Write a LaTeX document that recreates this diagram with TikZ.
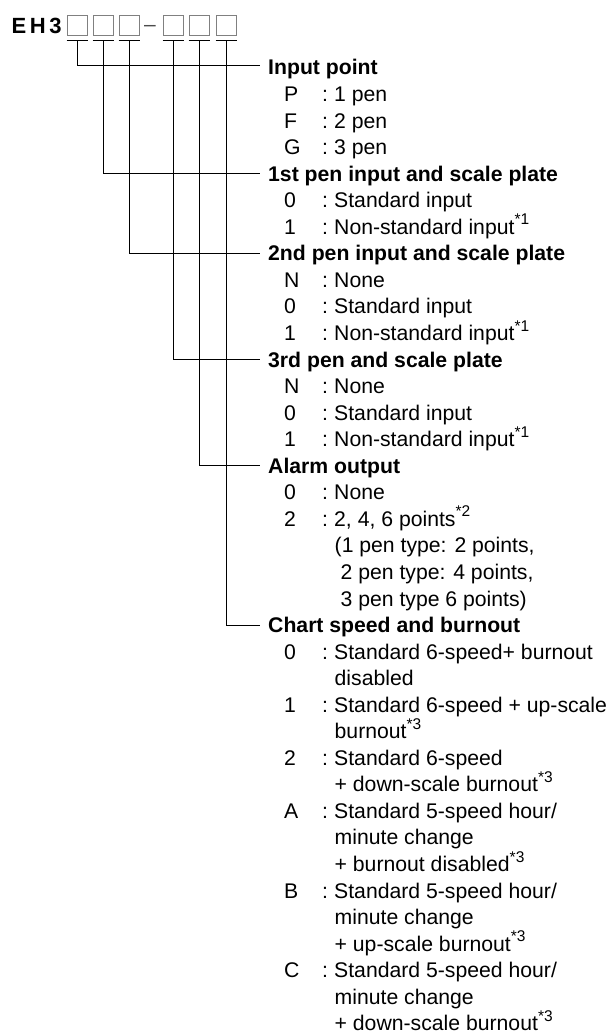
\documentclass[tikz,border=0pt]{standalone}
\usepackage{fontspec}
\setmainfont{Liberation Sans}
\newcommand{\supmark}[1]{\raisebox{9.5pt}{\fontsize{15.5}{15.5}\selectfont *#1}}
\tikzset{
  conn/.style={draw=black, line width=0.9pt},
  codebox/.style={draw=black!50, line width=0.9pt, minimum width=20pt, minimum height=20pt, inner sep=0pt},
  txt/.style={anchor=west, inner sep=0pt, text height=15pt, text depth=0pt, font=\fontsize{21.2}{21.2}\selectfont},
  head/.style={txt, font=\bfseries\fontsize{21.2}{21.2}\selectfont},
}
\begin{document}
\begin{tikzpicture}[x=1pt,y=-1pt]
\useasboundingbox (0,0) rectangle (611,1035);
% model code
\node[anchor=base west, inner sep=0pt, font=\bfseries\fontsize{22}{22}\selectfont] (eh) at (11.5,33.5) {E\kern3.5pt H\kern3.5pt 3};
\node[codebox] (b1) at (77,25) {};
\node[codebox] (b2) at (103,25) {};
\node[codebox] (b3) at (129,25) {};
\node[anchor=base west, inner sep=0pt, text=black!70, font=\fontsize{21}{21}\selectfont] (dash) at (144,31.5) {–};
\node[codebox] (b4) at (173,25) {};
\node[codebox] (b5) at (199,25) {};
\node[codebox] (b6) at (226,25) {};
\foreach \k in {1,...,6}{
  \coordinate (u\k) at ([yshift=-5pt]b\k.south);
  \draw[conn] ([xshift=-10.5pt]u\k) -- ([xshift=10.5pt]u\k);
}
% headers
\node[head] (h0) at (268,{67.5+26.55*0}) {Input point};
\node[head] (h1) at (268,{67.5+26.55*4}) {1st pen input and scale plate};
\node[head] (h2) at (268,{67.5+26.55*7}) {2nd pen input and scale plate};
\node[head] (h3) at (268,{67.5+26.55*11}) {3rd pen and scale plate};
\node[head] (h4) at (268,{67.5+26.55*15}) {Alarm output};
\node[head] (h5) at (268,{67.5+26.55*21}) {Chart speed and burnout};
% connectors
\draw[conn] (u1) |- ([xshift=-8pt,yshift=2.5pt]h0.west);
\draw[conn] (u2) |- ([xshift=-8pt]h1.west);
\draw[conn] (u3) |- ([xshift=-8pt]h2.west);
\draw[conn] (u4) |- ([xshift=-8pt]h3.west);
\draw[conn] (u5) |- ([xshift=-8pt]h4.west);
\draw[conn] (u6) |- ([xshift=-8pt]h5.west);
% options with a code letter
\foreach \i/\c/\d in {1/P/{1 pen}, 2/F/{2 pen}, 3/G/{3 pen},
  5/0/{Standard input}, 6/1/{Non-standard input\supmark{1}},
  8/N/{None}, 9/0/{Standard input}, 10/1/{Non-standard input\supmark{1}},
  12/N/{None}, 13/0/{Standard input}, 14/1/{Non-standard input\supmark{1}},
  16/0/{None}, 17/2/{2, 4, 6 points\supmark{2}},
  22/0/{Standard 6-speed+ burnout}, 24/1/{Standard 6-speed + up-scale},
  26/2/{Standard 6-speed}, 28/A/{Standard 5-speed hour/},
  31/B/{Standard 5-speed hour/}, 34/C/{Standard 5-speed hour/}}{
  \node[txt] (k\i) at (284,{67.5+26.55*\i}) {\c};
  \node[txt] (s\i) at (322,{67.5+26.55*\i}) {:};
  \node[txt] (d\i) at (334,{67.5+26.55*\i}) {\d};
}
% continuation lines
\foreach \i/\d in {18/{(1 pen type: 2 points,}, 19/{\ 2 pen type: 4 points,}, 20/{\ 3 pen type 6 points)},
  23/{disabled}, 25/{burnout\supmark{3}}, 27/{+ down-scale burnout\supmark{3}},
  29/{minute change}, 30/{+ burnout disabled\supmark{3}},
  32/{minute change}, 33/{+ up-scale burnout\supmark{3}},
  35/{minute change}, 36/{+ down-scale burnout\supmark{3}}}{
  \node[txt] (d\i) at (334.5,{67.5+26.55*\i}) {\d};
}
\end{tikzpicture}
\end{document}
